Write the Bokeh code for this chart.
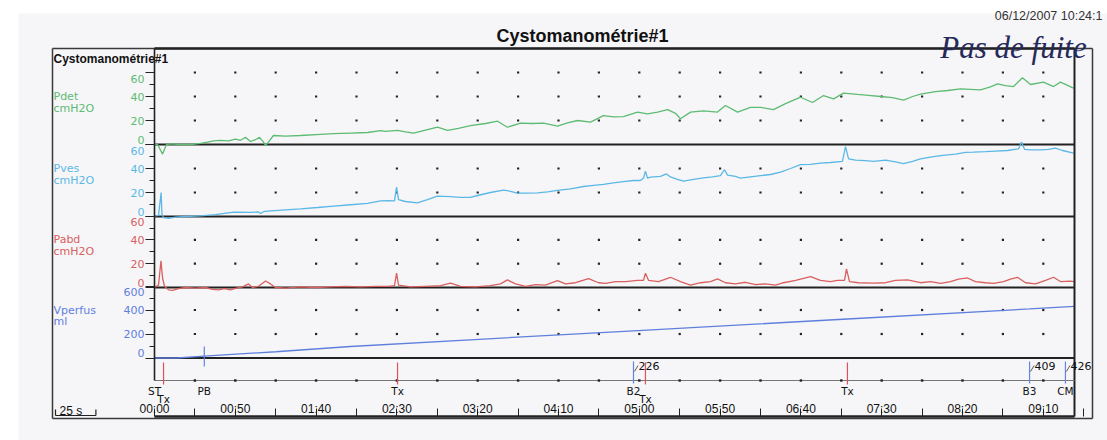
import numpy as np
from bokeh.plotting import figure
from bokeh.models import Range1d, LinearAxis, FixedTicker
from bokeh.core.properties import value
from bokeh.embed import file_html
from bokeh.resources import INLINE

# ---------------- recorded channels (time in seconds from start) ----------------
PDET_T = [0, 1.9, 5.0, 7.4, 9.9, 16.1, 22.3, 28.5, 32.8, 36.5,
          40.8, 45.8, 50.1, 53.2, 56.3, 59.4, 62.5, 65.0, 67.5, 68.7,
          70.5, 73.6, 81.1, 90.3, 102.7, 110.8, 121.3, 131.8, 140.0, 142.9,
          150.4, 155.3, 160.3, 167.7, 175.1, 181.3, 188.1, 195.5, 204.8, 212.3,
          218.4, 226.5, 233.9, 240.7, 249.4, 255.6, 261.8, 269.8, 277.8, 284.0,
          290.2, 298.9, 305.1, 311.3, 317.5, 322.4, 325.5, 331.7, 339.7, 348.4,
          353.3, 360.8, 368.8, 375.0, 383.0, 390.5, 399.8, 407.2, 414.0, 420.2,
          426.4, 435.0, 441.8, 449.3, 456.7, 463.5, 469.1, 474.0, 483.3, 490.7,
          498.8, 505.0, 511.1, 517.3, 521.7, 526.6, 531.6, 537.1, 542.1, 550.1,
          556.3, 560.6, 568.7]
PDET_V = [0, 0, -8, 0, 0.5, 0, 0, 1, 2, 3,
          3.5, 3, 4.5, 3.5, 6, 2.5, 4, 6, 2, -1,
          2, 7.5, 7, 7.5, 8.5, 9, 9.5, 10, 11.5, 11,
          11.7, 10.5, 9.4, 12, 14.4, 11.7, 13.5, 15.8, 17.5, 19.4,
          14.4, 17.8, 17.5, 17.8, 15.3, 18, 20, 18.6, 24, 23,
          23.3, 27, 25.5, 27, 29, 26, 21.4, 27, 28, 27,
          32.5, 27, 31, 31, 29, 34, 39.4, 35, 40.8, 38,
          42.8, 41.7, 41, 40, 39, 37, 40, 42, 44, 45,
          46.4, 46, 45.6, 48, 50.6, 49, 48.3, 55.6, 50, 52,
          48.3, 52, 47]

PVES_T = [0, 2.5, 4.1, 4.6, 5.6, 8.7, 13.0, 19.2, 28.5, 37.7,
          48.9, 59.4, 64.4, 65.6, 67.5, 69.9, 81.1, 90.3, 100.9, 110.8,
          121.3, 131.8, 139.9, 144.2, 148.5, 149.8, 151.0, 155.3, 162.7, 168.9,
          175.1, 183.2, 189.4, 195.5, 199.9, 207.9, 216.0, 220.3, 224.6, 230.8,
          237.0, 243.2, 249.4, 257.4, 265.5, 271.7, 277.8, 284.0, 290.2, 296.4,
          300.7, 302.6, 303.8, 305.1, 306.9, 313.1, 316.8, 319.3, 323.6, 327.4,
          333.6, 339.7, 345.3, 350.2, 352.7, 354.6, 359.5, 362.6, 368.8, 375.0,
          381.2, 387.4, 393.6, 399.8, 405.9, 412.1, 418.3, 425.7, 427.6, 429.5,
          433.8, 440.0, 444.9, 452.4, 458.5, 463.5, 469.1, 474.0, 480.2, 486.4,
          495.7, 501.9, 506.8, 514.2, 520.4, 527.8, 534.7, 536.5, 538.4, 542.1,
          548.3, 553.2, 557.5, 561.9, 568.7]
PVES_V = [0.5, 1, 20, 2, -1, -1.5, -0.5, 0, 0.5, 1.5,
          3.6, 3.5, 3.8, 2.5, 4, 4.4, 5.5, 6.4, 7.5, 8.6,
          9.8, 11, 13, 13.3, 13, 24.4, 14, 12.5, 11.4, 14,
          17, 16.5, 16, 16, 17.5, 20, 22, 21, 19.4, 19.5,
          19.7, 20.5, 21.7, 23, 25, 26, 26.7, 28, 29, 30,
          30, 32, 37.8, 32, 32.8, 33.5, 35.5, 33, 31, 29.4,
          31, 32.2, 33, 34, 39, 34.5, 33.5, 32, 33, 34,
          35, 37, 40, 43.3, 43.5, 44.4, 45, 46, 58.3, 48,
          47, 46.5, 46, 47, 45.5, 44, 46, 48, 49.5, 50.8,
          52, 53.5, 53.6, 54, 54.5, 55, 56.4, 62, 56, 55.6,
          55.6, 56, 57, 55, 52.8]

PABD_T = [0, 2.5, 4.0, 5.0, 6.2, 8.7, 11.1, 14.9, 19.2, 25.4,
          31.6, 35.9, 39.6, 43.3, 47.0, 50.7, 54.5, 58.2, 60.6, 64.4,
          68.7, 71.8, 74.9, 81.1, 90.3, 99.6, 108.9, 118.2, 127.5, 136.8,
          144.8, 148.5, 149.8, 151.0, 158.4, 167.7, 177.0, 183.2, 189.4, 198.6,
          207.9, 214.1, 218.4, 223.4, 229.6, 235.8, 241.9, 249.4, 254.3, 260.5,
          268.6, 274.8, 279.1, 285.3, 291.5, 298.9, 302.6, 303.8, 305.7, 311.9,
          319.3, 325.5, 331.7, 337.9, 344.1, 348.4, 353.3, 359.5, 365.7, 371.9,
          378.1, 384.3, 389.2, 396.7, 406.0, 412.1, 418.3, 422.6, 427.0, 428.2,
          430.1, 435.6, 444.9, 452.4, 458.5, 466.0, 474.0, 480.2, 486.4, 492.6,
          497.5, 503.1, 508.0, 514.2, 519.2, 525.4, 529.7, 534.0, 539.0, 545.2,
          551.4, 556.3, 560.6, 566.8, 569.3]
PABD_V = [0, 2, 22.5, 8, 1, -2, -2.5, -1, 0, -0.5,
          0, -1.5, -2, -1, -2, -0.5, 0.5, 3, 0, 1,
          5.5, 3, 0, -0.5, 0.5, 0, 0.5, 1, 0.5, 1,
          1, 1.5, 12, 2, 0.5, 1, 1.5, 3.6, 1, 0.5,
          1.5, 3, 6.4, 3, 1, 2.5, 2, 5.8, 3, 4,
          7.5, 4, 3.5, 5, 5, 6, 6, 12, 6, 5,
          8.6, 5, 2, 4, 5, 7.2, 4, 3, 4.4, 2.5,
          3, 2, 4, 6, 9.2, 6, 5, 6, 6, 15.6,
          5, 4, 3.6, 4, 6, 6.4, 4, 5, 3.5, 5,
          7, 8, 5, 4, 3.5, 5, 7, 8.6, 4, 3,
          6, 8.6, 5, 5.3, 5]

VPERF_T = [0, 14, 30.8, 75, 121.3, 203.6, 296.4, 428.8, 541.5, 563.7, 569.3]
VPERF_V = [0, 0, 16, 52, 96, 158, 226, 325, 409, 426, 430]

EVENT_T = [0, 5.6, 30.8, 150.4, 296.4, 303.8, 428.8, 541.5, 563.7]
EVENT_CODE = ["ST", "Tx", "PB", "Tx", "B2", "Tx", "Tx", "B3", "CM"]

TIME_TICKS = [0, 50, 100, 150, 200, 250, 300, 350, 400, 450, 500, 550]
TIME_LABELS = ["00:00", "00:50", "01:40", "02:30", "03:20", "04:10",
               "05:00", "05:50", "06:40", "07:30", "08:20", "09:10"]

# ---------------- sheet geometry (screen pixels, y downwards) ----------------
W, H = 1107, 440
BOX_L, BOX_R, BOX_T, BOX_B = 52, 1092, 48, 418
AXIS_X = 154
PX_PER_S = 1.616
T_END = 569.3
MARK_BASE = 380
TIME_AXIS_Y = 416
INK = "#222222"
PAPER = "#f6f6f8"
TX_RED = "#e0505a"
MARK_BLUE = "#6482e0"
FONT = "DejaVu Sans"

# name, zero-line y, px per unit, colour, label, unit, major ticks, minor ticks, panel top
CHANNELS = [
    ("pdet", 144.0, 1.2, "#5dbb72", "Pdet", "cmH2O", [0, 20, 40, 60], [10, 30, 50], 80),
    ("pves", 216.0, 1.2, "#5bb8e6", "Pves", "cmH2O", [0, 20, 40, 60], [10, 30, 50], 60),
    ("pabd", 287.0, 1.19, "#d9605e", "Pabd", "cmH2O", [0, 20, 40, 60], [10, 30, 50], 60),
    ("vperf", 357.5, 0.12, "#5f7fdc", "Vperfus", "ml", [0, 200, 400, 600], [100, 300, 500], 600),
]
TRACES = {
    "pdet": (PDET_T, PDET_V),
    "pves": (PVES_T, PVES_V),
    "pabd": (PABD_T, PABD_V),
    "vperf": (VPERF_T, VPERF_V),
}

# the plotting frame covers the whole sheet; default ranges are sheet pixels
p = figure(width=W, height=H, output_backend="svg", toolbar_location=None, title=None,
           x_range=Range1d(0, W), y_range=Range1d(H, 0),
           x_axis_type=None, y_axis_type=None,
           min_border_left=0, min_border_right=0, min_border_top=0, min_border_bottom=0)
p.border_fill_color = "#ffffff"
p.background_fill_color = "#ffffff"
p.outline_line_color = None

p.extra_x_ranges = {"time": Range1d(-AXIS_X / PX_PER_S, (W - AXIS_X) / PX_PER_S)}
for name, y0, k, *_ in CHANNELS:
    p.extra_y_ranges[name] = Range1d((y0 - H) / k, y0 / k)

# scanned sheet area
p.quad(left=[18], right=[W], top=[13], bottom=[H], fill_color=PAPER, line_color=None)

# outer box
p.segment(x0=[BOX_L, BOX_R, BOX_L, BOX_L], y0=[BOX_T, BOX_T, BOX_T, BOX_B],
          x1=[BOX_L, BOX_R, BOX_R, BOX_R], y1=[BOX_B, BOX_B, BOX_T, BOX_B],
          line_color="#3a3a3a", line_width=1.5)

grid_t = np.arange(25, 551, 25)

for name, y0, k, color, label, unit, ticks, minor, top in CHANNELS:
    lowest = (y0 - MARK_BASE) / k if name == "vperf" else 0
    tick_ax = LinearAxis(y_range_name=name, fixed_location=AXIS_X, bounds=(lowest, top),
                         ticker=FixedTicker(ticks=ticks, minor_ticks=minor),
                         axis_line_color=INK, axis_line_width=1.6,
                         major_tick_line_color=INK, minor_tick_line_color=INK,
                         major_tick_in=0, major_tick_out=9, minor_tick_in=0, minor_tick_out=5,
                         major_label_text_color=None)
    p.add_layout(tick_ax, "left")

    # extreme labels sit slightly inside the panel so neighbours don't collide
    top_tick, bot_tick = ticks[-1], ticks[0]
    top_pos = int(round(top_tick - 6 / k))
    bot_pos = int(round(bot_tick + 5 / k))
    lab_ax = LinearAxis(y_range_name=name, fixed_location=AXIS_X,
                        ticker=FixedTicker(ticks=[bot_pos] + ticks[1:-1] + [top_pos], minor_ticks=[]),
                        major_label_overrides={bot_pos: str(bot_tick), top_pos: str(top_tick)},
                        axis_line_color=None, major_tick_line_color=None, minor_tick_line_color=None,
                        major_tick_in=0, major_tick_out=0, major_label_standoff=10,
                        major_label_text_color=color, major_label_text_font=FONT,
                        major_label_text_font_size="11px")
    p.add_layout(lab_ax, "left")

    # channel zero line
    p.segment(x0=[0], y0=[0], x1=[T_END], y1=[0], x_range_name="time", y_range_name=name,
              line_color=INK, line_width=2.2)

    # grid dots every 25 s
    levels = [v for v in ticks[1:] if name == "pdet" or v != ticks[-1]]
    gx, gy = np.meshgrid(grid_t, levels)
    p.scatter(gx.ravel(), gy.ravel(), x_range_name="time", y_range_name=name,
              marker="square", size=2.2, color=INK, line_color=None)

    # channel name and unit
    p.text(x=[BOX_L + 1, BOX_L + 1], y=[ticks[2], ticks[2] - 11.5 / k], text=[label, unit],
           y_range_name=name, text_font=value(FONT), text_font_size="11px", text_color=color,
           text_align="left", text_baseline="middle")

# traces
for name, y0, k, color, *_ in CHANNELS:
    tt, vv = TRACES[name]
    p.line(tt, vv, x_range_name="time", y_range_name=name, line_color=color, line_width=1.3)

# top edge, right edge and event strip baseline
p.segment(x0=[0], y0=[BOX_T], x1=[T_END], y1=[BOX_T], x_range_name="time",
          line_color=INK, line_width=2.4)
p.segment(x0=[T_END], y0=[BOX_T], x1=[T_END], y1=[TIME_AXIS_Y], x_range_name="time",
          line_color=INK, line_width=2)
p.segment(x0=[0], y0=[MARK_BASE], x1=[T_END], y1=[MARK_BASE], x_range_name="time",
          line_color="#777777", line_width=1)
p.scatter(grid_t, [MARK_BASE] * len(grid_t), x_range_name="time",
          marker="square", size=2.4, color=INK, line_color=None)

# time axis
time_ax = LinearAxis(x_range_name="time", fixed_location=TIME_AXIS_Y, bounds=(0, T_END),
                     ticker=FixedTicker(ticks=TIME_TICKS, minor_ticks=[t + 25 for t in TIME_TICKS]),
                     major_label_overrides=dict(zip(TIME_TICKS, TIME_LABELS)),
                     axis_line_color=INK, axis_line_width=2.6,
                     major_tick_line_color=INK, minor_tick_line_color=INK,
                     major_tick_in=0, major_tick_out=8, minor_tick_in=0, minor_tick_out=8,
                     major_label_standoff=-7, major_label_text_font="Liberation Sans",
                     major_label_text_font_size="12px", major_label_text_color="#111111")
p.add_layout(time_ax, "above")

# events
rows, prev = [], None
for t in EVENT_T:
    rows.append(1 if prev is not None and t - prev < 12 else 0)
    prev = t
label_y = [390 if r == 0 else 398 for r in rows]
p.text(x=EVENT_T, y=label_y, text=EVENT_CODE, x_range_name="time",
       text_font=value(FONT), text_font_size="10.5px", text_color="#111111",
       text_align="center", text_baseline="middle")

tx_t = [t for t, c in zip(EVENT_T, EVENT_CODE) if c == "Tx"]
p.segment(x0=tx_t, y0=[362] * len(tx_t), x1=tx_t, y1=[384] * len(tx_t),
          x_range_name="time", line_color=TX_RED, line_width=1.2)

bl_t = [t for t, c in zip(EVENT_T, EVENT_CODE) if c in ("B2", "B3", "CM")]
p.segment(x0=bl_t, y0=[361] * len(bl_t), x1=bl_t, y1=[383] * len(bl_t),
          x_range_name="time", line_color=MARK_BLUE, line_width=1.2)
bl_vol = np.interp(bl_t, VPERF_T, VPERF_V)
p.segment(x0=[t + 1 / PX_PER_S for t in bl_t], y0=[371] * len(bl_t),
          x1=[t + 4.5 / PX_PER_S for t in bl_t], y1=[365] * len(bl_t),
          x_range_name="time", line_color="#333333", line_width=0.8)
p.text(x=bl_t, y=[365] * len(bl_t), text=[f"{v:.0f}" for v in bl_vol], x_range_name="time",
       x_offset=5, text_font=value(FONT), text_font_size="11px", text_color="#111111",
       text_align="left", text_baseline="middle")

pb_t = [t for t, c in zip(EVENT_T, EVENT_CODE) if c == "PB"]
p.segment(x0=pb_t, y0=[346] * len(pb_t), x1=pb_t, y1=[366] * len(pb_t),
          x_range_name="time", line_color=MARK_BLUE, line_width=1.2)

# 25 s scale bar
bar_t0 = (55 - AXIS_X) / PX_PER_S
p.segment(x0=[bar_t0, bar_t0, bar_t0 + 25], y0=[415, 409, 409],
          x1=[bar_t0 + 25, bar_t0, bar_t0 + 25], y1=[415, 415, 415],
          x_range_name="time", line_color=INK, line_width=1.2)
p.text(x=[bar_t0 + 4 / PX_PER_S], y=[410], text=["25 s"], x_range_name="time",
       text_font=value("Liberation Sans"), text_font_size="12px", text_color="#111111",
       text_align="left", text_baseline="middle")

# headings
p.text(x=[BOX_L + 1], y=[58], text=["Cystomanométrie#1"], text_font=value("Liberation Sans"),
       text_font_style="bold", text_font_size="12px", text_color="#111111",
       text_align="left", text_baseline="middle")
p.text(x=[582], y=[35], text=["Cystomanométrie#1"], text_font=value("Liberation Sans"),
       text_font_style="bold", text_font_size="18px", text_color="#111111",
       text_align="center", text_baseline="middle")
p.text(x=[1102], y=[15], text=["06/12/2007 10:24:1"], text_font=value("Liberation Sans"),
       text_font_size="12.5px", text_color="#333333",
       text_align="right", text_baseline="middle")
p.text(x=[1013], y=[47], text=["Pas de fuite"], text_font=value("Liberation Serif"),
       text_font_style="italic", text_font_size="31px", text_color="#262a5a",
       text_align="center", text_baseline="alphabetic")

open("out.html", "w").write(file_html(p, INLINE))
